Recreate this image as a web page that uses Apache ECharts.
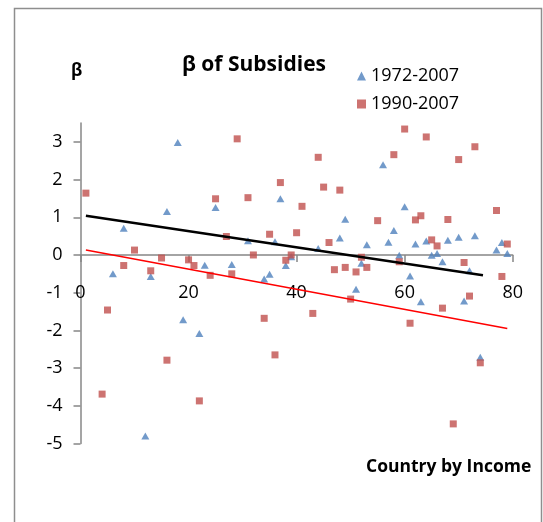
<!DOCTYPE html>
<html>
<head>
<meta charset="utf-8">
<script src="https://cdn.jsdelivr.net/npm/echarts@6/dist/echarts.min.js"></script>
<style>
html,body{margin:0;padding:0;background:#fff}
#chart{width:543px;height:522px}
</style>
</head>
<body>
<div id="chart"></div>
<script>
// Axis ticks
const xTicks = [0, 20, 40, 60, 80];
const yTicks = [-5, -4, -3, -2, -1, 0, 1, 2, 3];
const yMin = -5, yMax = 3.5;

// Series names
const name1972 = '1972-2007';
const name1990 = '1990-2007';

// 1972-2007: country rank by income and estimated beta
const x1972 = [6, 8, 12, 13, 16, 18, 19, 22, 23, 25, 28, 31, 34, 35, 36, 37, 38, 39, 44, 48,
  49, 51, 52, 53, 56, 57, 58, 59, 60, 61, 62, 63, 64, 65, 66, 67, 68, 70, 71, 72, 73, 74, 77, 78, 79];
const b1972 = [-0.50, 0.71, -4.80, -0.57, 1.15, 2.98, -1.72, -2.08, -0.27, 1.26, -0.25, 0.38, -0.64, -0.51, 0.35, 1.49, -0.28, -0.05, 0.17, 0.45,
  0.95, -0.91, -0.22, 0.27, 2.39, 0.34, 0.65, -0.01, 1.28, -0.56, 0.29, -1.24, 0.37, -0.01, 0.04, -0.18, 0.39, 0.47, -1.22, -0.42, 0.51, -2.71, 0.13, 0.33, 0.04];

// 1990-2007: country rank by income and estimated beta
const x1990 = [1, 4, 5, 8, 10, 13, 15, 16, 20, 21, 22, 24, 25, 27, 28, 29, 31, 32, 34, 35,
  36, 37, 38, 39, 40, 41, 43, 44, 45, 46, 47, 48, 49, 50, 51, 52, 53, 55, 58, 59,
  60, 61, 62, 63, 64, 65, 66, 67, 68, 69, 70, 71, 72, 73, 74, 77, 78, 79];
const b1990 = [1.64, -3.69, -1.46, -0.28, 0.13, -0.42, -0.08, -2.79, -0.13, -0.28, -3.87, -0.54, 1.49, 0.49, -0.50, 3.08, 1.52, 0.00, -1.68, 0.55,
  -2.65, 1.92, -0.14, 0.00, 0.59, 1.29, -1.55, 2.59, 1.80, 0.33, -0.39, 1.72, -0.33, -1.17, -0.45, -0.06, -0.33, 0.91, 2.66, -0.18,
  3.34, -1.81, 0.93, 1.04, 3.13, 0.40, 0.24, -1.41, 0.94, -4.48, 2.53, -0.20, -1.09, 2.87, -2.86, 1.18, -0.57, 0.29];

// Linear trend end points
const trend1972X = [1, 74.5];
const trend1972Y = [1.04, -0.54];
const trend1990X = [1, 79];
const trend1990Y = [0.13, -1.95];

const pairs = (xs, ys) => xs.map((x, i) => [x, ys[i]]);

const FONT = 'Open Sans';
const AXIS_GRAY = '#878787';

// Plot box, and the lift that puts the category axis on the zero line
const gridBox = { left: 80.5, right: 30.3, top: 123, bottom: 78.5 };
const plotHeight = 522 - gridBox.top - gridBox.bottom;
const zeroLift = plotHeight * (0 - yMin) / (yMax - yMin);

const chart = echarts.init(document.getElementById('chart'), null, { renderer: 'canvas' });
chart.setOption({
  backgroundColor: '#ffffff',
  animation: false,
  textStyle: { fontFamily: FONT, color: '#000' },
  title: {
    text: 'β of Subsidies',
    left: 249, top: 50, textAlign: 'center',
    textStyle: { fontFamily: FONT, fontWeight: 'bold', fontSize: 21, color: '#000' }
  },
  legend: {
    orient: 'vertical',
    left: 352, top: 62,
    itemWidth: 9, itemHeight: 9, itemGap: 10,
    textStyle: { fontFamily: FONT, fontSize: 18, color: '#000' },
    data: [
      { name: name1972, icon: 'triangle', itemStyle: { color: '#4f81bd' } },
      { name: name1990, icon: 'rect', itemStyle: { color: '#c0504d' } }
    ]
  },
  graphic: [
    { type: 'rect', shape: { x: 14.5, y: 8.5, width: 527, height: 530 },
      style: { fill: 'none', stroke: '#8e8e8e', lineWidth: 1.5 }, silent: true, z: -1 },
    { type: 'text', left: 71, top: 63,
      style: { text: 'β', font: 'bold 17px "Open Sans"', fill: '#000' } },
    { type: 'text', left: 366, top: 458,
      style: { text: 'Country by Income', font: 'bold 17.5px "Open Sans"', fill: '#000' } }
  ],
  grid: Object.assign({ containLabel: false }, gridBox),
  xAxis: {
    type: 'value', min: 0, max: 80, interval: 20,
    position: 'bottom', offset: -zeroLift,
    axisLine: { show: true, onZero: false, lineStyle: { color: AXIS_GRAY, width: 1.5 } },
    axisTick: { show: true, length: 7, lineStyle: { color: AXIS_GRAY, width: 1.5 },
      customValues: xTicks },
    axisLabel: { fontFamily: FONT, fontSize: 18, color: '#000', margin: 28.5, customValues: xTicks },
    splitLine: { show: false }
  },
  yAxis: {
    type: 'value', min: yMin, max: yMax, interval: 1,
    axisLine: { show: true, onZero: false, lineStyle: { color: AXIS_GRAY, width: 1.5 } },
    axisTick: { show: true, length: 7, lineStyle: { color: AXIS_GRAY, width: 1.5 },
      customValues: yTicks },
    axisLabel: { fontFamily: FONT, fontSize: 18, color: '#000', margin: 18, customValues: yTicks },
    splitLine: { show: false }
  },
  series: [
    { name: name1972, type: 'scatter', symbol: 'triangle', symbolSize: [8, 7],
      itemStyle: { color: '#4f81bd' }, data: pairs(x1972, b1972), z: 2 },
    { name: name1990, type: 'scatter', symbol: 'rect', symbolSize: 7,
      itemStyle: { color: '#c0504d' }, data: pairs(x1990, b1990), z: 3 },
    { name: 'trend1972', type: 'line', data: pairs(trend1972X, trend1972Y), symbol: 'none',
      lineStyle: { color: '#000', width: 2.5 }, z: 4, silent: true },
    { name: 'trend1990', type: 'line', data: pairs(trend1990X, trend1990Y), symbol: 'none',
      lineStyle: { color: '#ff0000', width: 1.5 }, z: 4, silent: true }
  ]
});
</script>
</body>
</html>
